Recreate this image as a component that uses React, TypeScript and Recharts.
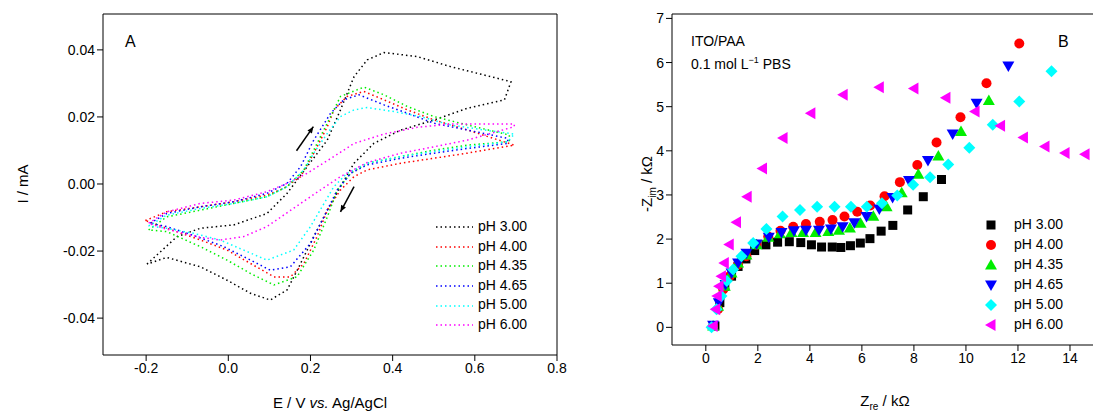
import React from "react";
import { ComposedChart, ScatterChart, Line, Scatter, XAxis, YAxis, ReferenceLine } from "recharts";

type Pt = { x: number; y: number };
const pts = (a: number[][]): Pt[] => a.map(([x, y]) => ({ x, y }));

// Panel A: cyclic voltammograms, E (V) vs I (mA)
const cvPh300 = pts([[-0.198,-0.0239],[-0.125,-0.0157],[-0.068,-0.0132],[0.013,-0.0122],[0.094,-0.0088],[0.143,-0.0028],[0.192,0.0052],[0.241,0.0131],[0.273,0.0221],[0.306,0.032],[0.338,0.037],[0.379,0.0392],[0.46,0.038],[0.541,0.035],[0.623,0.0325],[0.688,0.0305],[0.672,0.0251],[0.582,0.0226],[0.501,0.0191],[0.42,0.0161],[0.354,0.0121],[0.306,0.0062],[0.273,-0.0008],[0.241,-0.0078],[0.208,-0.0157],[0.176,-0.0237],[0.143,-0.0316],[0.102,-0.0346],[0.054,-0.0326],[-0.003,-0.0287],[-0.068,-0.0247],[-0.15,-0.0219],[-0.198,-0.0239]]);
const cvPh400 = pts([[-0.202,-0.0109],[-0.15,-0.0083],[-0.068,-0.0068],[0.013,-0.0053],[0.094,-0.0033],[0.135,-0.0013],[0.176,0.0022],[0.208,0.0092],[0.241,0.0171],[0.257,0.0221],[0.289,0.0261],[0.33,0.0276],[0.379,0.0251],[0.436,0.0221],[0.501,0.0191],[0.582,0.0161],[0.696,0.0116],[0.582,0.0092],[0.501,0.0077],[0.42,0.0062],[0.338,0.0042],[0.306,0.0022],[0.273,-0.0018],[0.241,-0.0078],[0.216,-0.0157],[0.184,-0.0237],[0.151,-0.0277],[0.111,-0.0277],[0.054,-0.0237],[-0.003,-0.0197],[-0.068,-0.0167],[-0.15,-0.0132],[-0.202,-0.0109]]);
const cvPh435 = pts([[-0.194,-0.0137],[-0.15,-0.0098],[-0.068,-0.0078],[0.013,-0.0058],[0.094,-0.0038],[0.143,-0.0008],[0.184,0.0042],[0.216,0.0121],[0.249,0.0201],[0.273,0.0261],[0.33,0.0289],[0.379,0.0266],[0.436,0.0231],[0.501,0.0201],[0.582,0.0176],[0.684,0.0146],[0.684,0.0126],[0.582,0.0116],[0.501,0.0101],[0.42,0.0082],[0.338,0.0062],[0.298,0.0032],[0.265,-0.0018],[0.241,-0.0098],[0.208,-0.0197],[0.167,-0.0277],[0.111,-0.0301],[0.054,-0.0267],[-0.003,-0.0227],[-0.068,-0.0187],[-0.15,-0.0142],[-0.194,-0.0137]]);
const cvPh465 = pts([[-0.19,-0.0117],[-0.15,-0.0088],[-0.068,-0.0068],[0.013,-0.0053],[0.094,-0.0028],[0.143,0.0002],[0.176,0.0052],[0.208,0.0131],[0.249,0.0211],[0.281,0.0251],[0.318,0.0266],[0.379,0.0236],[0.436,0.0211],[0.501,0.0181],[0.582,0.0161],[0.68,0.0136],[0.68,0.0121],[0.582,0.0106],[0.501,0.0092],[0.42,0.0077],[0.338,0.0057],[0.298,0.0032],[0.265,-0.0018],[0.233,-0.0098],[0.2,-0.0177],[0.151,-0.0247],[0.102,-0.0257],[0.046,-0.0222],[-0.011,-0.0187],[-0.076,-0.0157],[-0.15,-0.0127],[-0.19,-0.0117]]);
const cvPh500 = pts([[-0.194,-0.0125],[-0.15,-0.0093],[-0.068,-0.0073],[0.013,-0.0058],[0.094,-0.0038],[0.143,-0.0008],[0.184,0.0042],[0.208,0.0092],[0.241,0.0151],[0.273,0.0201],[0.306,0.0221],[0.338,0.0228],[0.403,0.0216],[0.468,0.0201],[0.541,0.0176],[0.623,0.0161],[0.696,0.0149],[0.68,0.0126],[0.582,0.0111],[0.501,0.0097],[0.42,0.0082],[0.338,0.0062],[0.289,0.0032],[0.257,-0.0008],[0.233,-0.0058],[0.2,-0.0127],[0.159,-0.0197],[0.094,-0.0227],[0.037,-0.0197],[-0.02,-0.0167],[-0.085,-0.0147],[-0.15,-0.0132],[-0.194,-0.0125]]);
const cvPh600 = pts([[-0.194,-0.0117],[-0.15,-0.0083],[-0.068,-0.0058],[0.013,-0.0048],[0.094,-0.0023],[0.143,0.0002],[0.192,0.0032],[0.257,0.0082],[0.306,0.0121],[0.379,0.0149],[0.46,0.0169],[0.541,0.0179],[0.696,0.0179],[0.696,0.0171],[0.582,0.0131],[0.501,0.0111],[0.42,0.0092],[0.338,0.0064],[0.273,0.0022],[0.224,-0.0018],[0.176,-0.0058],[0.094,-0.0127],[0.037,-0.0157],[-0.02,-0.0167],[-0.068,-0.0159],[-0.15,-0.0135],[-0.194,-0.0117]]);

// Panel B: Nyquist plots, Zre vs -Zim (kΩ)
const eisPh300 = pts([[0.35,0.03],[0.54,0.56],[0.73,0.93],[0.99,1.16],[1.24,1.38],[1.54,1.55],[1.88,1.74],[2.31,1.87],[2.76,1.93],[3.21,1.94],[3.65,1.92],[4.06,1.87],[4.45,1.82],[4.86,1.82],[5.19,1.81],[5.56,1.85],[5.94,1.91],[6.31,2.01],[6.74,2.18],[7.19,2.31],[7.76,2.66],[8.36,2.96],[9.06,3.35]]);
const eisPh400 = pts([[0.28,0.03],[0.47,0.41],[0.67,0.86],[0.92,1.16],[1.24,1.42],[1.56,1.61],[1.95,1.87],[2.4,2.06],[2.87,2.19],[3.36,2.28],[3.85,2.34],[4.38,2.39],[4.87,2.43],[5.33,2.51],[5.82,2.62],[6.32,2.76],[6.87,2.97],[7.46,3.29],[8.13,3.68],[8.87,4.19],[9.79,4.76],[10.79,5.53],[12.05,6.43]]);
const eisPh435 = pts([[0.28,0.03],[0.47,0.48],[0.73,0.93],[0.99,1.23],[1.24,1.46],[1.56,1.64],[1.95,1.87],[2.4,2.04],[2.85,2.12],[3.29,2.15],[3.74,2.15],[4.22,2.15],[4.71,2.17],[5.12,2.2],[5.54,2.25],[5.95,2.36],[6.44,2.52],[6.95,2.73],[7.53,3.05],[8.17,3.47],[8.94,3.88],[9.81,4.44],[10.88,5.14]]);
const eisPh465 = pts([[0.28,0.05],[0.5,0.56],[0.76,0.97],[0.99,1.23],[1.24,1.46],[1.56,1.68],[1.95,1.89],[2.42,2.04],[2.91,2.15],[3.39,2.19],[3.85,2.2],[4.35,2.2],[4.81,2.23],[5.26,2.28],[5.71,2.37],[6.18,2.51],[6.67,2.68],[7.18,2.94],[7.81,3.33],[8.54,3.78],[9.49,4.38],[10.41,5.08],[11.63,5.92]]);
const eisPh500 = pts([[0.22,0],[0.41,0.41],[0.6,0.71],[0.81,1.05],[1.05,1.31],[1.37,1.61],[1.82,1.91],[2.33,2.23],[2.95,2.51],[3.62,2.66],[4.28,2.73],[4.95,2.73],[5.58,2.73],[6.19,2.73],[6.77,2.81],[7.36,2.99],[7.97,3.23],[8.62,3.4],[9.32,3.69],[10.13,4.07],[11.03,4.59],[12.05,5.12],[13.29,5.8]]);
const eisPh600 = pts([[0.28,0.03],[0.38,0.41],[0.44,0.71],[0.51,0.93],[0.6,1.16],[0.71,1.46],[0.9,1.88],[1.18,2.38],[1.59,2.96],[2.18,3.6],[2.97,4.29],[4.04,4.85],[5.28,5.27],[6.67,5.44],[8.0,5.41],[9.23,5.2],[10.35,4.89],[11.33,4.57],[12.21,4.3],[13.04,4.1],[13.81,3.95],[14.58,3.92]]);

const phLabels = ["pH 3.00", "pH 4.00", "pH 4.35", "pH 4.65", "pH 5.00", "pH 6.00"];
const colors = ["#000000", "#ff0000", "#00ee00", "#0000ff", "#00ffff", "#ff00ff"];
const cvSeries = [cvPh300, cvPh400, cvPh435, cvPh465, cvPh500, cvPh600];
const eisSeries = [eisPh300, eisPh400, eisPh435, eisPh465, eisPh500, eisPh600];
const markers = ["square", "circle", "up", "down", "diamond", "left"];

const cvXTicks = [-0.2, 0, 0.2, 0.4, 0.6, 0.8];
const cvYTicks = [-0.04, -0.02, 0, 0.02, 0.04];
const eisXTicks = [0, 2, 4, 6, 8, 10, 12, 14];
const eisYTicks = [0, 1, 2, 3, 4, 5, 6, 7];

const FONT = "'Liberation Sans', Arial, sans-serif";
const tickStyle = { fill: "#000", fontSize: 14, fontFamily: FONT };
const noText = { fill: "none", fontSize: 14 };

function Marker({ kind, cx, cy, fill }: { kind: string; cx: number; cy: number; fill: string }) {
  if (kind === "square") return <rect x={cx - 4.5} y={cy - 4.5} width={9} height={9} fill={fill} />;
  if (kind === "circle") return <circle cx={cx} cy={cy} r={5} fill={fill} />;
  let p = "";
  if (kind === "up") p = `${cx},${cy - 6} ${cx + 6},${cy + 4.5} ${cx - 6},${cy + 4.5}`;
  if (kind === "down") p = `${cx},${cy + 6} ${cx + 6},${cy - 4.5} ${cx - 6},${cy - 4.5}`;
  if (kind === "diamond") p = `${cx},${cy - 6} ${cx + 6},${cy} ${cx},${cy + 6} ${cx - 6},${cy}`;
  if (kind === "left") p = `${cx - 6},${cy} ${cx + 4.5},${cy - 6} ${cx + 4.5},${cy + 6}`;
  return <polygon points={p} fill={fill} />;
}

const arrow = (props: any) => {
  const { x1, y1, x2, y2 } = props;
  const a = Math.atan2(y2 - y1, x2 - x1);
  const h = 7;
  const p1 = `${x2 - h * Math.cos(a - 0.4)},${y2 - h * Math.sin(a - 0.4)}`;
  const p2 = `${x2 - h * Math.cos(a + 0.4)},${y2 - h * Math.sin(a + 0.4)}`;
  return (
    <g>
      <line x1={x1} y1={y1} x2={x2} y2={y2} stroke="#000" strokeWidth={1.5} />
      <polygon points={`${x2},${y2} ${p1} ${p2}`} fill="#000" />
    </g>
  );
};

const txt: React.CSSProperties = { position: "absolute", fontFamily: FONT, fontSize: 14, color: "#000", whiteSpace: "nowrap" };
const vlabel = (x: number): React.CSSProperties => ({
  ...txt, left: x, top: 184, fontSize: 15, transform: "translate(-50%,-50%) rotate(-90deg)",
});

export default function App() {
  return (
    <div style={{ position: "fixed", left: 0, top: 0, width: 1093, height: 413, overflow: "hidden", background: "#fff" }}>
      <div style={{ position: "absolute", left: 0, top: 0 }}>
        <ComposedChart width={580} height={413} margin={{ top: 13, right: 22, bottom: 0, left: 0 }}>
          <XAxis xAxisId="b" dataKey="x" type="number" domain={[-0.305, 0.8]} ticks={cvXTicks} allowDataOverflow
            tick={tickStyle} tickFormatter={(v) => v.toFixed(1)} height={58} stroke="#000" />
          <XAxis xAxisId="t" orientation="top" dataKey="x" type="number" domain={[-0.305, 0.8]} ticks={cvXTicks}
            tick={noText} height={1} stroke="#000" />
          <YAxis yAxisId="l" dataKey="y" type="number" domain={[-0.051, 0.0507]} ticks={cvYTicks} allowDataOverflow
            tick={tickStyle} tickFormatter={(v) => v.toFixed(2)} width={103} stroke="#000" />
          <YAxis yAxisId="r" orientation="right" dataKey="y" type="number" domain={[-0.051, 0.0507]} ticks={cvYTicks}
            tick={noText} width={1} stroke="#000" />
          {cvSeries.map((d, i) => (
            <Line key={i} xAxisId="b" yAxisId="l" data={d} dataKey="y" type="linear" stroke={colors[i]}
              strokeWidth={1.5} strokeDasharray="1.5 3" dot={false} isAnimationActive={false} />
          ))}
          <ReferenceLine xAxisId="b" yAxisId="l" segment={[{ x: 0.166, y: 0.0099 }, { x: 0.207, y: 0.0171 }]} shape={arrow} />
          <ReferenceLine xAxisId="b" yAxisId="l" segment={[{ x: 0.306, y: -0.0008 }, { x: 0.273, y: -0.0083 }]} shape={arrow} />
        </ComposedChart>
      </div>
      <div style={{ ...txt, left: 125, top: 33, fontSize: 16 }}>A</div>
      {phLabels.map((l, i) => (
        <div key={l} style={{ ...txt, left: 436, top: 218 + i * 19.6 }}>
          <svg width={38} height={16} style={{ verticalAlign: "middle" }}>
            <line x1={0} y1={8} x2={37} y2={8} stroke={colors[i]} strokeWidth={1.5} strokeDasharray="1.5 3" />
          </svg>
          <span style={{ marginLeft: 4 }}>{l}</span>
        </div>
      ))}
      <div style={vlabel(22)}>I / mA</div>
      <div style={{ ...txt, left: 330, top: 394, transform: "translateX(-50%)", fontSize: 15 }}>E / V <i>vs.</i> Ag/AgCl</div>

      <div style={{ position: "absolute", left: 560, top: 0 }}>
        <ScatterChart width={540} height={413} margin={{ top: 13, right: 3, bottom: 0, left: 0 }}>
          <XAxis xAxisId="b" dataKey="x" type="number" domain={[-1.3, 15]} ticks={eisXTicks} allowDataOverflow
            tick={tickStyle} height={68} stroke="#000" />
          <XAxis xAxisId="t" orientation="top" dataKey="x" type="number" domain={[-1.3, 15]} ticks={eisXTicks}
            tick={noText} height={1} stroke="#000" />
          <YAxis yAxisId="l" dataKey="y" type="number" domain={[-0.4, 7.1]} ticks={eisYTicks} allowDataOverflow
            tick={tickStyle} width={112} stroke="#000" />
          <YAxis yAxisId="r" orientation="right" dataKey="y" type="number" domain={[-0.4, 7.1]} ticks={eisYTicks}
            tick={noText} width={1} stroke="#000" />
          {eisSeries.map((d, i) => (
            <Scatter key={i} xAxisId="b" yAxisId="l" data={d} fill={colors[i]} isAnimationActive={false}
              shape={(p: any) => <Marker kind={markers[i]} cx={p.cx} cy={p.cy} fill={colors[i]} />} />
          ))}
        </ScatterChart>
      </div>
      <div style={{ ...txt, left: 691, top: 33 }}>ITO/PAA</div>
      <div style={{ ...txt, left: 691, top: 55 }}>0.1 mol L<sup style={{ fontSize: 9 }}>−1</sup> PBS</div>
      <div style={{ ...txt, left: 1058, top: 33, fontSize: 16 }}>B</div>
      {phLabels.map((l, i) => (
        <div key={l} style={{ ...txt, left: 982, top: 216 + i * 20 }}>
          <svg width={18} height={18} style={{ verticalAlign: "middle" }}>
            <Marker kind={markers[i]} cx={9} cy={9} fill={colors[i]} />
          </svg>
          <span style={{ marginLeft: 14 }}>{l}</span>
        </div>
      ))}
      <div style={vlabel(648)}>
        -Z<sub style={{ fontSize: 10 }}>im</sub> / kΩ
      </div>
      <div style={{ ...txt, left: 885, top: 392, transform: "translateX(-50%)", fontSize: 15 }}>
        Z<sub style={{ fontSize: 10 }}>re</sub> / kΩ
      </div>
    </div>
  );
}
